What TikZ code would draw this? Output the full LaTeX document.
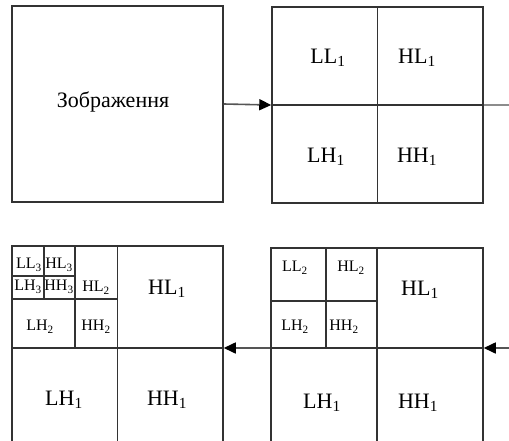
\documentclass[tikz,border=0pt]{standalone}
\usepackage{fontspec}
\setmainfont{Liberation Serif}
\usetikzlibrary{arrows.meta}
\definecolor{edge}{HTML}{333333}
\definecolor{shaft}{HTML}{555555}
\definecolor{tail}{HTML}{8C8C8C}

\begin{document}
\begin{tikzpicture}[x=1pt,y=-1pt,
  box/.style={draw=edge,line width=1.5pt,inner sep=0pt},
  grid/.style={edge,line width=1.5pt},
  big/.style={font=\fontsize{22}{26}\selectfont},
  sml/.style={font=\fontsize{16}{19}\selectfont},
  flow/.style={shaft,line width=1.6pt,-{Triangle[length=12pt,width=11pt,color=black]}}]
  \useasboundingbox (0,0) rectangle (509,441);
  \clip (0,0) rectangle (509,441);

  % ===== source image =====
  \node[box,minimum width=211pt,minimum height=196pt] (img) at (117.5,104) {};
  \node[big] (imgtxt) at (113,102) {Зображення};

  % ===== level 1 =====
  \node[box,minimum width=211pt,minimum height=196pt] (lvl1) at (377.5,105) {};
  \draw[grid] (lvl1.north) -- (lvl1.south) (lvl1.west) -- (lvl1.east);
  \node[big] (ll1) at (328,58) {LL\textsubscript{1}};
  \node[big] (hl1) at (417,58) {HL\textsubscript{1}};
  \node[big] (lh1) at (326,157) {LH\textsubscript{1}};
  \node[big] (hh1) at (417,157) {HH\textsubscript{1}};
  \coordinate (out1) at (509,105);

  % ===== level 2 (right) =====
  \node[box,minimum width=212pt,minimum height=200pt] (lvl2) at (377,348) {};
  \draw[grid] (lvl2.north) -- (lvl2.south) (lvl2.west) -- (lvl2.east);
  \draw[grid] (326,248) -- (326,348) (271,301) -- (378,301);
  \node[sml] (ll2) at (295,268) {LL\textsubscript{2}};
  \node[sml] (hl2) at (351,268) {HL\textsubscript{2}};
  \node[sml] (lh2) at (295,327) {LH\textsubscript{2}};
  \node[sml] (hh2) at (344,327) {HH\textsubscript{2}};
  \node[big] (hl1b) at (420,290) {HL\textsubscript{1}};
  \node[big] (lh1b) at (322,403) {LH\textsubscript{1}};
  \node[big] (hh1b) at (418,403) {HH\textsubscript{1}};
  \coordinate (in2) at (509,348);

  % ===== level 3 (left) =====
  \node[box,minimum width=211pt,minimum height=204pt] (lvl3) at (117.5,348) {};
  \draw[grid] (lvl3.north) -- (lvl3.south) (lvl3.west) -- (lvl3.east);
  \draw[grid] (75,246) -- (75,348) (12,299) -- (118,299);
  \draw[grid] (44,246) -- (44,299) (12,276) -- (75,276);
  \node[sml] (ll3) at (29,265) {LL\textsubscript{3}};
  \node[sml] (hl3) at (59,265) {HL\textsubscript{3}};
  \node[sml] (lh3) at (28,287) {LH\textsubscript{3}};
  \node[sml] (hh3) at (59,287) {HH\textsubscript{3}};
  \node[sml] (hl2c) at (96,288) {HL\textsubscript{2}};
  \node[sml] (lh2c) at (40,327) {LH\textsubscript{2}};
  \node[sml] (hh2c) at (96,327) {HH\textsubscript{2}};
  \node[big] (hl1c) at (167,289) {HL\textsubscript{1}};
  \node[big] (lh1c) at (64,400) {LH\textsubscript{1}};
  \node[big] (hh1c) at (167,400) {HH\textsubscript{1}};

  % ===== arrows =====
  \draw[flow] (img.east) -- (lvl1.west);
  \draw[tail,line width=2pt] (lvl1.east) -- (out1);
  \draw[flow] (in2) -- (lvl2.east);
  \draw[flow] (lvl2.west) -- (lvl3.east);
\end{tikzpicture}
\end{document}
